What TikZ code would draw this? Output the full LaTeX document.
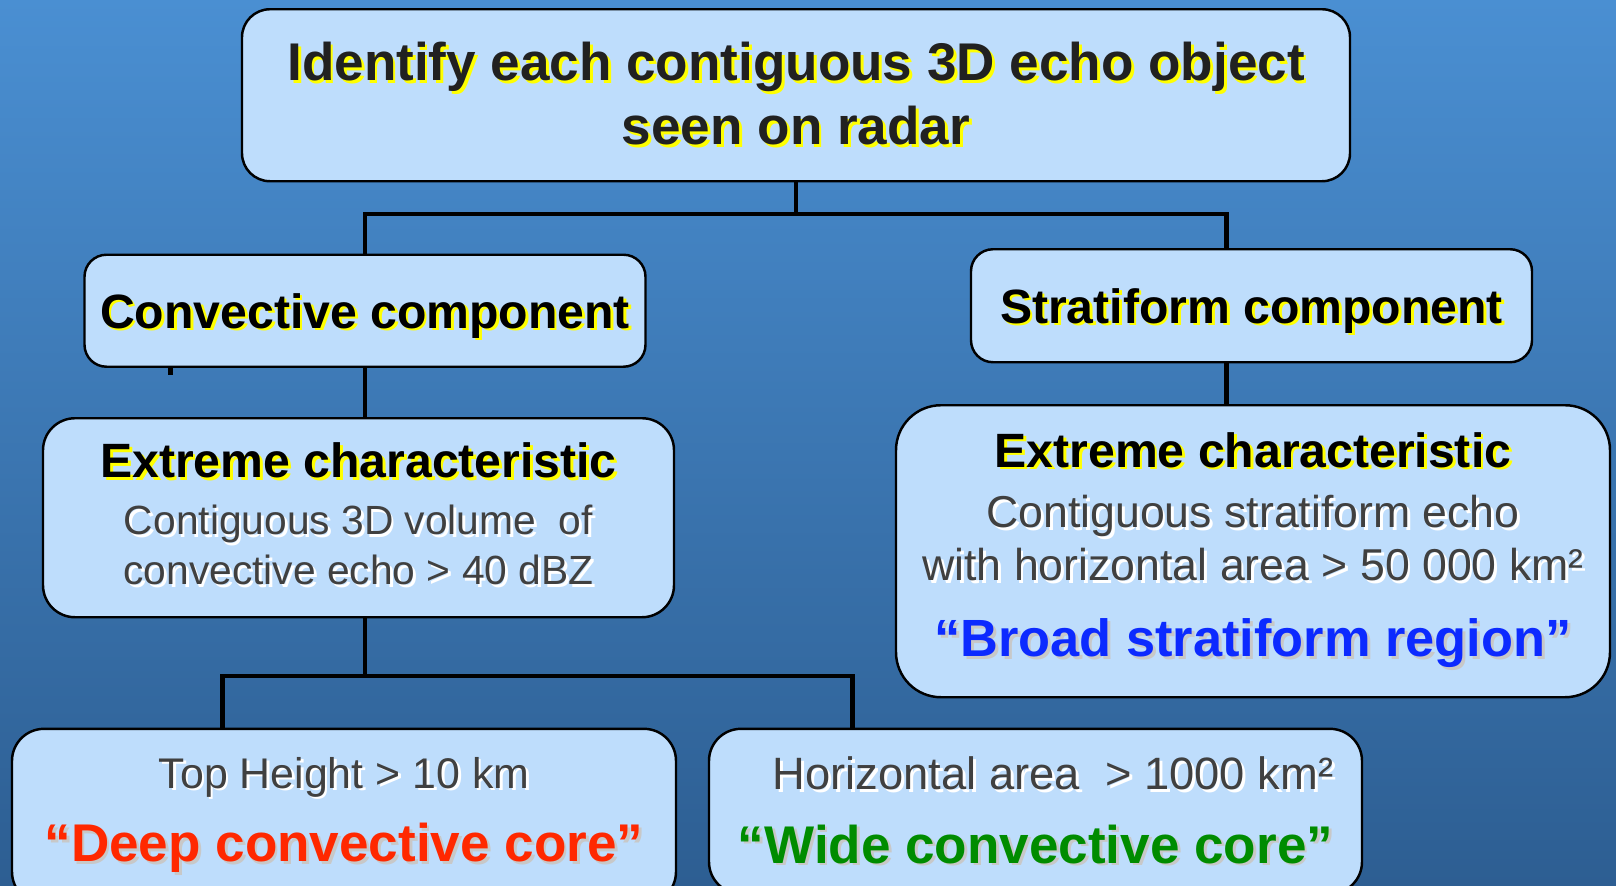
\documentclass[tikz,border=0pt]{standalone}
\usepackage{fontspec}
\setmainfont{Liberation Sans}
\usepackage{xcolor}
\definecolor{skyTop}{RGB}{74,143,210}
\definecolor{skyBottom}{RGB}{45,94,146}
\definecolor{boxFill}{RGB}{190,221,252}
\definecolor{greyText}{RGB}{64,64,64}
\definecolor{deepRed}{RGB}{255,40,0}
\definecolor{wideGreen}{RGB}{0,140,0}
\definecolor{broadBlue}{RGB}{12,42,255}
\definecolor{glowYellow}{RGB}{255,255,0}
\definecolor{softShade}{RGB}{200,200,200}
% text with a small offset shadow behind it
\newcommand{\glow}[2]{\makebox[0pt][l]{\hspace{0.8pt}\raisebox{-0.8pt}{\textcolor{#1}{#2}}}#2}

\begin{document}
\begin{tikzpicture}[
        echoBox/.style={draw=black, line width=0.7pt, fill=boxFill, align=center, inner sep=0pt, anchor=north},
        linkStyle/.style={line width=1.35pt, draw=black}
    ]
        % Background
        \shade[top color=skyTop, bottom color=skyBottom] (0,0) rectangle (16.16,8.85);
        \useasboundingbox (0,0) rectangle (16.16,8.85);
        \clip (0,0) rectangle (16.16,8.85);

        % Root
        \node[echoBox, rounded corners=0.28cm, minimum width=11.08cm, minimum height=1.72cm, text=black!87, font=\fontsize{15.1}{18.2}\selectfont\bfseries] (identify) at (7.96, 8.77) {
            \glow{glowYellow}{Identify each contiguous 3D echo object}\\
            \glow{glowYellow}{seen on radar}
        };

        % Components
        \node[echoBox, rounded corners=0.22cm, minimum width=5.61cm, minimum height=1.12cm, text depth=0pt, font=\fontsize{13.7}{16}\selectfont\bfseries] (convComp) at (3.65, 6.315) {\glow{glowYellow}{Convective component}};
        \node[echoBox, rounded corners=0.22cm, minimum width=5.61cm, minimum height=1.13cm, text depth=0pt, font=\fontsize{13.7}{16}\selectfont\bfseries] (stratComp) at (12.515, 6.37) {\glow{glowYellow}{Stratiform component}};

        % Left branch: convective
        \node[echoBox, rounded corners=0.32cm, minimum width=6.31cm, minimum height=1.99cm, text depth=2.3pt, text=greyText, font=\fontsize{11.6}{14.2}\selectfont] (convExtreme) at (3.585, 4.68) {
            {\fontsize{13.7}{14}\selectfont\bfseries\color{black}\glow{glowYellow}{Extreme characteristic}}\\[1.9pt]
            \glow{white}{Contiguous 3D volume \ of}\\
            \glow{white}{convective echo > 40 dBZ}
        };

        % Right branch: stratiform
        \node[echoBox, rounded corners=0.45cm, minimum width=7.14cm, minimum height=2.92cm, text=greyText, font=\fontsize{12.7}{15.1}\selectfont] (stratExtreme) at (12.53, 4.81) {
            {\fontsize{13.7}{14}\selectfont\bfseries\color{black}\glow{glowYellow}{Extreme characteristic}}\\[2pt]
            \glow{white}{Contiguous stratiform echo}\\
            \glow{white}{with horizontal area > 50 000 km²}\\[6.5pt]
            {\fontsize{14.9}{16}\selectfont\bfseries\color{broadBlue}\glow{softShade}{“Broad stratiform region”}}
        };

        % Cores
        \node[echoBox, rounded corners=0.32cm, minimum width=6.64cm, minimum height=1.75cm, text=greyText, font=\fontsize{12.2}{14.6}\selectfont] (deepCore) at (3.44, 1.574) {
            \glow{white}{Top Height > 10 km}\\[6.4pt]
            {\fontsize{15.1}{16}\selectfont\bfseries\color{deepRed}\glow{softShade}{“Deep convective core”}}
        };
        \node[echoBox, rounded corners=0.32cm, minimum width=6.53cm, minimum height=1.65cm, text=greyText, font=\fontsize{12.9}{14.6}\selectfont] (wideCore) at (10.355, 1.574) {
            \hspace*{10pt}\glow{white}{Horizontal area \ > 1000 km²}\\[6.4pt]
            {\fontsize{15.1}{16}\selectfont\bfseries\color{wideGreen}\glow{softShade}{“Wide convective core”}}
        };

        % Connectors
        \coordinate (splitTop) at (7.96, 6.71);
        \coordinate (splitBottom) at (3.65, 2.09);
        \coordinate (stratDrop) at ([xshift=-0.25cm]stratComp.south);
        \coordinate (stratRise) at ([xshift=-0.25cm]stratComp.north);
        \coordinate (deepRise) at ([xshift=-1.214cm]deepCore.north);
        \coordinate (wideRise) at ([xshift=-1.832cm]wideCore.north);
        \coordinate (convTick) at ([xshift=0.875cm]convComp.south west);
        \draw[linkStyle] (identify.south) -- (splitTop);
        \draw[linkStyle] (splitTop) -| (convComp.north);
        \draw[linkStyle] (splitTop) -| (stratRise);
        \draw[linkStyle] (convComp.south) -- (convComp.south |- convExtreme.north);
        \draw[linkStyle] (stratDrop) -- (stratDrop |- stratExtreme.north);
        \draw[linkStyle] (convComp.south |- convExtreme.south) -- (splitBottom);
        \draw[linkStyle] (splitBottom) -| (deepRise);
        \draw[linkStyle] (splitBottom) -| (wideRise);
        \draw[linkStyle] (convTick) -- ++(0,-0.07);
    \end{tikzpicture}
\end{document}
